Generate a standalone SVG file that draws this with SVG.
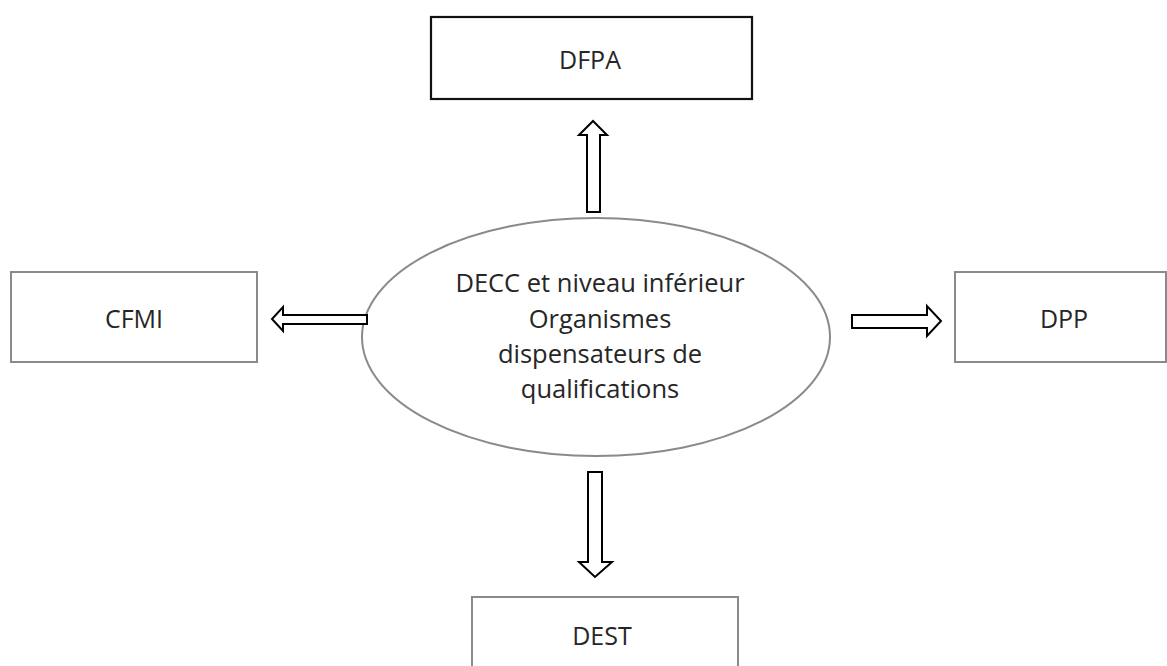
<svg xmlns="http://www.w3.org/2000/svg" width="1167" height="666" viewBox="0 0 1167 666">
<style>
.box{fill:#fff;stroke:#8a8a8a;stroke-width:2}
.boxb{fill:#fff;stroke:#111;stroke-width:2.2}
.lbl{font-family:"Open Sans","Liberation Sans",sans-serif;font-size:25px;fill:#262626;text-anchor:middle}
.big{font-size:25.5px}
.arr{fill:#fff;stroke:#000;stroke-width:2;stroke-linejoin:miter}
</style>
<rect width="1167" height="666" fill="#fff"/>
<g id="dfpa">
<rect class="boxb" x="431" y="17" width="321" height="82"/>
<text class="lbl" x="590" y="69">DFPA</text>
</g>
<g id="cfmi">
<rect class="box" x="11" y="272" width="246" height="90"/>
<text class="lbl" x="134" y="328">CFMI</text>
</g>
<g id="dpp">
<rect class="box" x="955" y="272" width="211" height="90"/>
<text class="lbl" x="1064" y="328">DPP</text>
</g>
<g id="dest">
<path class="box" d="M472,667 V597 H738 V667"/>
<text class="lbl" x="602" y="645">DEST</text>
</g>
<g id="center">
<ellipse class="box" cx="596" cy="337" rx="234" ry="119"/>
<text class="lbl big" x="600"><tspan x="600" y="292">DECC et niveau inférieur</tspan><tspan x="600" y="328">Organismes</tspan><tspan x="600" y="363">dispensateurs de</tspan><tspan x="600" y="398">qualifications</tspan></text>
</g>
<g id="connectors">
<path class="arr" d="M587,212 V135 H579 L593,121 L607,135 H600 V212 Z"/>
<path class="arr" d="M367,315 H283 V307 L272,319 L283,331 V324 H367 Z"/>
<path class="arr" d="M852,315 H927 V306 L941,321 L927,336 V328 H852 Z"/>
<path class="arr" d="M588,472 V562 H579 L595,577 L612,562 H602 V472 Z"/>
</g>
</svg>
